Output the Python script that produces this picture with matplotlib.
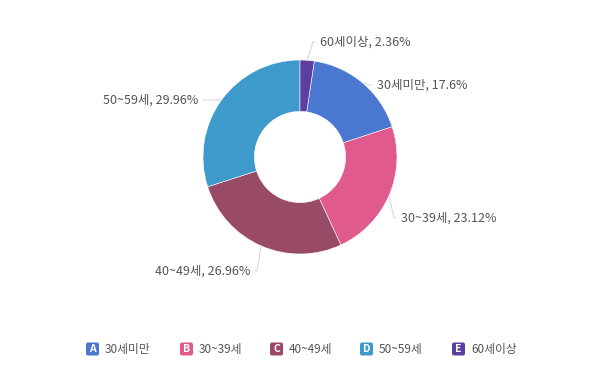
import numpy as np
import matplotlib
matplotlib.use("Agg")
from matplotlib import pyplot as plt
from matplotlib.patches import FancyBboxPatch

plt.rcParams['font.family'] = ['Noto Sans CJK KR', 'DejaVu Sans']

# data
groups = ["30세미만", "30~39세", "40~49세", "50~59세", "60세이상"]
shares = [17.6, 23.12, 26.96, 29.96, 2.36]
letters = ["A", "B", "C", "D", "E"]
colors = ["#4a77cf", "#e15a8d", "#984a66", "#3e9acb", "#5c3fa1"]

# label placement (pixels from top-left): x, y, alignment
label_pos = [(377, 85, "left"), (401, 218, "left"), (250, 271, "right"),
             (198, 100, "right"), (320, 42, "left")]
legend_x = [86, 180, 270, 360, 452]

W, H = 600, 380
fig = plt.figure(figsize=(6, 3.8), dpi=100)
ax = fig.add_axes([0, 0, 1, 1])
ax.set_xlim(0, W)
ax.set_ylim(0, H)
ax.axis("off")

cx, cy, r = 300, H - 157, 97
start = 90 - shares[-1] / 100 * 360
wedges, _ = ax.pie(shares, colors=colors, startangle=start, counterclock=False,
                   center=(cx, cy), radius=r,
                   wedgeprops=dict(width=r * 0.53, edgecolor="white", linewidth=0.4))
ax.set_xlim(0, W)
ax.set_ylim(0, H)
ax.set_aspect("equal")

for w, name, val, (tx, ty, ha) in zip(wedges, groups, shares, label_pos):
    mid = np.radians((w.theta1 + w.theta2) / 2)
    px, py = cx + r * np.cos(mid), cy + r * np.sin(mid)
    ty = H - ty
    ex = tx - 5 if ha == "left" else tx + 5
    ax.plot([px, ex - (2 if ha == "left" else -2), ex], [py, ty, ty],
            color="#d8d8d8", lw=0.8, solid_capstyle="round")
    ax.text(tx, ty, f"{name}, {val}%", ha=ha, va="center", fontsize=9,
            color="#555555")

for x, let, name, c in zip(legend_x, letters, groups, colors):
    y = H - 349
    ax.add_patch(FancyBboxPatch((x, y - 6.5), 13, 13,
                                boxstyle="round,pad=0,rounding_size=2",
                                fc=c, ec="none"))
    ax.text(x + 6.5, y, let, ha="center", va="center", fontsize=7.5,
            color="white", fontweight="bold")
    ax.text(x + 19, y, name, ha="left", va="center", fontsize=8.5,
            color="#555555")

fig.savefig("out.png", dpi=100)
